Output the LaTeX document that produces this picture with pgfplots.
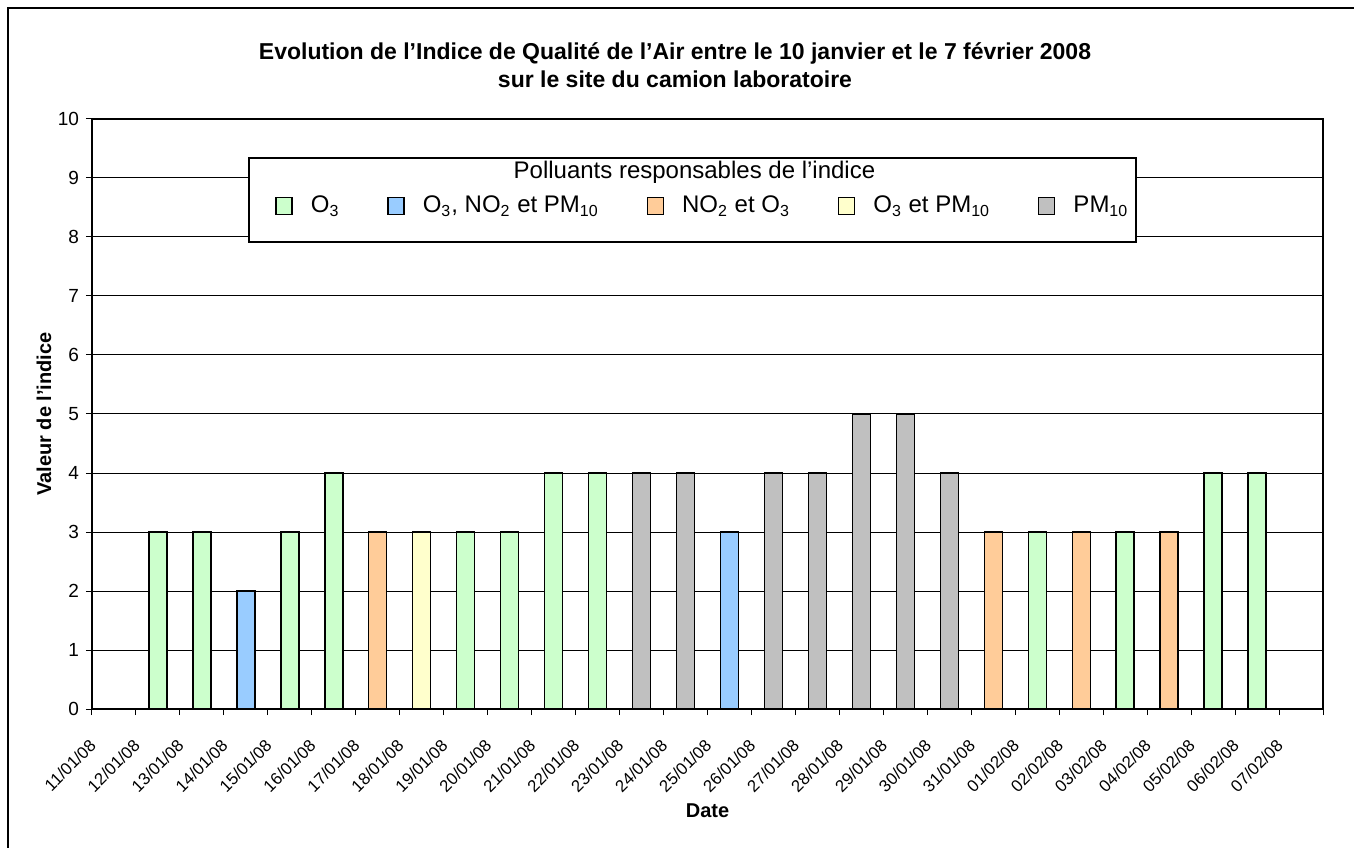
\documentclass[border=0pt]{standalone}
\usepackage{fontspec}
\setmainfont{Liberation Sans}
\usepackage{pgfplots}
\pgfplotsset{compat=1.18}
\definecolor{cO}{HTML}{CCFFCC}
\definecolor{cB}{HTML}{99CCFF}
\definecolor{cR}{HTML}{FFCC99}
\definecolor{cY}{HTML}{FFFFCC}
\definecolor{cG}{HTML}{C0C0C0}
\pgfplotsset{mybar/.style={ybar, bar width=9pt, bar shift=0pt, draw=black, line width=0.7pt}}
\begin{document}
\begin{tikzpicture}[x=1pt,y=1pt]
\useasboundingbox (0,0) rectangle (677,423.5);
\draw[line width=0.75pt] (4,-20) -- (4,419.5) -- (700,419.5);
\begin{axis}[
  at={(46pt,69pt)}, anchor=south west,
  scale only axis, width=615.5pt, height=295pt,
  xmin=0, xmax=28, ymin=0, ymax=10,
  xtick={0,...,28},
  xticklabels={11/01/08,12/01/08,13/01/08,14/01/08,15/01/08,16/01/08,17/01/08,18/01/08,19/01/08,20/01/08,21/01/08,22/01/08,23/01/08,24/01/08,25/01/08,26/01/08,27/01/08,28/01/08,29/01/08,30/01/08,31/01/08,01/02/08,02/02/08,03/02/08,04/02/08,05/02/08,06/02/08,07/02/08,{}},
  ytick={0,...,10},
  ymajorgrids, grid style={black, line width=0.5pt},
  axis line style={black, line width=0.6pt},
  tick align=outside, tick pos=left, major tick length=3pt,
  tick style={black, line width=0.5pt},
  /pgf/number format/assume math mode=true,
  y tick label style={font=\fontsize{9.5}{11}\selectfont},
  x tick label style={font=\fontsize{8.4}{10}\selectfont, rotate=45, anchor=east, xshift=-6pt, yshift=-10pt},
  title={Evolution de l'Indice de Qualité de l'Air entre le 10 janvier et le 7 février 2008\\sur le site du camion laboratoire},
  title style={at={(axis description cs:0.4736,1.071)}, anchor=center, align=center, font=\bfseries\fontsize{11.5}{14}\selectfont},
  ylabel={Valeur de l'indice},
  ylabel style={at={(axis description cs:-0.039,0.5)}, rotate=0, anchor=center, font=\bfseries\fontsize{10}{12}\selectfont},
  xlabel={Date},
  xlabel style={at={(axis description cs:0.5,-0.173)}, anchor=center, font=\bfseries\fontsize{10}{12}\selectfont},
  legend columns=5,
  legend style={draw=none, fill=none, at={(axis description cs:0.1487,0.853)}, anchor=west, inner sep=0pt,
    font=\fontsize{12}{14}\selectfont,
    /tikz/every odd column/.append style={column sep=7pt},
    /tikz/every even column/.append style={column sep=22pt}},
  legend image code/.code={\draw[#1,draw=black,line width=0.7pt] (0pt,-4.25pt) rectangle (8pt,4.25pt);},
]
\addplot[mybar, fill=cO] coordinates {(1.5,3) (2.5,3) (4.5,3) (5.5,4) (8.5,3) (9.5,3) (10.5,4) (11.5,4) (21.5,3) (23.5,3) (25.5,4) (26.5,4)};
\addplot[mybar, fill=cB] coordinates {(3.5,2) (14.5,3)};
\addplot[mybar, fill=cR] coordinates {(6.5,3) (20.5,3) (22.5,3) (24.5,3)};
\addplot[mybar, fill=cY] coordinates {(7.5,3)};
\addplot[mybar, fill=cG] coordinates {(12.5,4) (13.5,4) (15.5,4) (16.5,4) (17.5,5) (18.5,5) (19.5,4)};
\legend{O\textsubscript{3}, {O\textsubscript{3}, NO\textsubscript{2} et PM\textsubscript{10}}, NO\textsubscript{2} et O\textsubscript{3}, O\textsubscript{3} et PM\textsubscript{10}, PM\textsubscript{10}}
\draw[black, line width=0.6pt, fill=white] (rel axis cs:0.1275,0.7915) rectangle (rel axis cs:0.848,0.934);
\node[font=\fontsize{12}{14}\selectfont, anchor=center] at (rel axis cs:0.4894,0.910) {Polluants responsables de l’indice};
\end{axis}
\end{tikzpicture}
\end{document}
